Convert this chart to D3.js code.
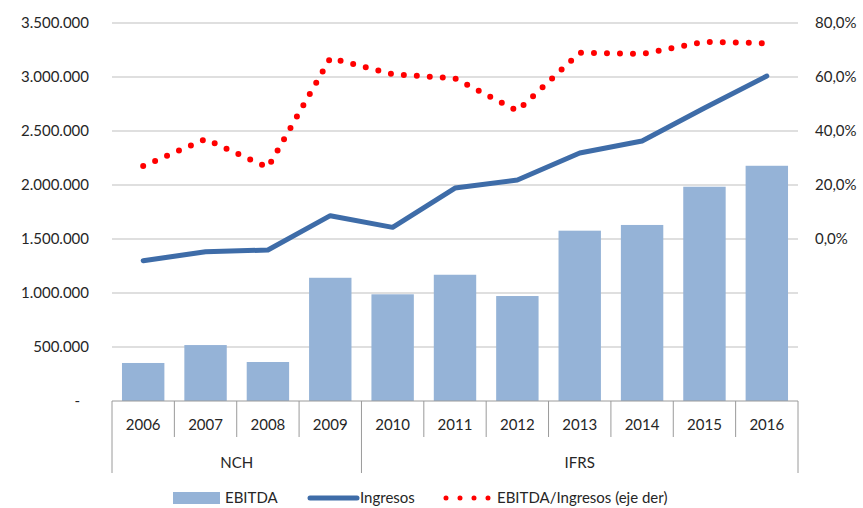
<!DOCTYPE html>
<html>
<head>
<meta charset="utf-8">
<script src="https://cdn.jsdelivr.net/npm/d3@7"></script>
<style>
  body { margin: 0; background: #fff; }
  svg text { font-family: Lato, "Open Sans", sans-serif; fill: #262626; }
</style>
</head>
<body>
<div class="chart"></div>
<script>
"use strict";
(function(){

var years = ['2006','2007','2008','2009','2010','2011','2012','2013','2014','2015','2016'];
var groups = [
  {name: 'NCH', from: '2006', to: '2009'},
  {name: 'IFRS', from: '2010', to: '2016'}
];
var ebitda = [352000, 518000, 361000, 1141000, 988000, 1169000, 972000, 1577000, 1630000, 1984000, 2178000];
var ingresos = [1299000, 1382000, 1398000, 1716000, 1608000, 1972000, 2046000, 2296000, 2407000, 2713000, 3009000];
var ratio = [27.0, 37.0, 26.5, 67.0, 61.0, 59.5, 47.5, 69.0, 68.5, 73.0, 72.5];
var leftTicks = [0, 500000, 1000000, 1500000, 2000000, 2500000, 3000000, 3500000];
var rightTicks = [0, 20, 40, 60, 80];

var width = 863;
var height = 508;
var margin = {left: 112, right: 65, top: 23, bottom: 107};

var svg = d3.select('.chart')
            .append('svg')
            .attr('width', width)
            .attr('height', height);

var x = d3.scaleBand().domain(years).range([margin.left, width - margin.right]).paddingInner(0.32).paddingOuter(0.16);
var xc = d3.scaleBand().domain(years).range([margin.left, width - margin.right]);
var y = d3.scaleLinear().domain([0, 3500000]).range([height - margin.bottom, margin.top]);
var yr = d3.scaleLinear().domain([-60, 80]).range([height - margin.bottom, margin.top]);

var fmt = function(v){
  if (v === 0) return '-';
  return d3.format(',')(v).replace(/,/g, '.');
};
var pfmt = function(v){ return d3.format('.1f')(v).replace('.', ',') + '%'; };

// grid
svg.append('g').selectAll('line')
   .data(leftTicks.slice(1))
   .enter().append('line')
   .attr('x1', margin.left).attr('x2', width - margin.right)
   .attr('y1', function(d){ return y(d); }).attr('y2', function(d){ return y(d); })
   .attr('stroke', '#d4d4d4').attr('stroke-width', 1.5);

// left axis
var la = svg.append('g')
   .attr('transform', 'translate(' + (margin.left - 23) + ',0)')
   .call(d3.axisLeft(y).tickValues(leftTicks).tickFormat(fmt).tickSize(0).tickPadding(0));
la.select('.domain').remove();
la.selectAll('text').attr('font-size', 15).attr('dx', function(d){ return d === 0 ? -9 : 0; });

// right axis
var ra = svg.append('g')
   .attr('transform', 'translate(' + (width - margin.right + 17) + ',0)')
   .call(d3.axisRight(yr).tickValues(rightTicks).tickFormat(pfmt).tickSize(0).tickPadding(0));
ra.select('.domain').remove();
ra.selectAll('text').attr('font-size', 15);

// bars
svg.append('g').selectAll('rect')
   .data(ebitda)
   .enter().append('rect')
   .attr('x', function(d, i){ return x(years[i]); })
   .attr('width', x.bandwidth())
   .attr('y', function(d){ return y(d); })
   .attr('height', function(d){ return y(0) - y(d); })
   .attr('fill', '#95b3d7');

// ingresos line
var line = d3.line()
  .x(function(d, i){ return xc(years[i]) + xc.bandwidth() / 2; })
  .y(function(d){ return y(d); });
svg.append('path')
   .datum(ingresos)
   .attr('d', line)
   .attr('fill', 'none')
   .attr('stroke', '#3e6ca8')
   .attr('stroke-width', 5)
   .attr('stroke-linecap', 'round')
   .attr('stroke-linejoin', 'round');

// ratio dotted line
var rline = d3.line()
  .x(function(d, i){ return xc(years[i]) + xc.bandwidth() / 2; })
  .y(function(d){ return yr(d); });
svg.append('path')
   .datum(ratio)
   .attr('d', rline)
   .attr('fill', 'none')
   .attr('stroke', '#ff0000')
   .attr('stroke-width', 6)
   .attr('stroke-linecap', 'round')
   .attr('stroke-dasharray', '0 13');

// category axis
var base = y(0);
svg.append('line')
   .attr('x1', margin.left).attr('x2', width - margin.right)
   .attr('y1', base).attr('y2', base)
   .attr('stroke', '#9a9a9a').attr('stroke-width', 1);

var inner = years.filter(function(d){ return groups.every(function(g){ return g.from !== d; }); });
svg.append('g').selectAll('line')
   .data(inner)
   .enter().append('line')
   .attr('x1', function(d){ return xc(d); }).attr('x2', function(d){ return xc(d); })
   .attr('y1', base).attr('y2', base + 36)
   .attr('stroke', '#9a9a9a');

var gEdges = groups.map(function(g){ return xc(g.from); }).concat([xc(groups[groups.length - 1].to) + xc.bandwidth()]);
svg.append('g').selectAll('line')
   .data(gEdges)
   .enter().append('line')
   .attr('x1', function(d){ return d; }).attr('x2', function(d){ return d; })
   .attr('y1', base).attr('y2', base + 72)
   .attr('stroke', '#9a9a9a');

svg.append('g').selectAll('text')
   .data(years)
   .enter().append('text')
   .attr('x', function(d){ return xc(d) + xc.bandwidth() / 2; })
   .attr('y', base + 29)
   .attr('text-anchor', 'middle')
   .attr('font-size', 15)
   .text(function(d){ return d; });

svg.append('g').selectAll('text')
   .data(groups)
   .enter().append('text')
   .attr('x', function(g){ return (xc(g.from) + xc(g.to) + xc.bandwidth()) / 2; })
   .attr('y', base + 67)
   .attr('text-anchor', 'middle')
   .attr('font-size', 15)
   .text(function(g){ return g.name; });

// legend
var ly = 498;
var lg = svg.append('g');
lg.append('rect').attr('x', 173).attr('y', ly - 6).attr('width', 47).attr('height', 12).attr('fill', '#95b3d7');
lg.append('text').attr('x', 225).attr('y', ly + 5).attr('font-size', 15).text('EBITDA');
lg.append('line').attr('x1', 310).attr('x2', 357).attr('y1', ly).attr('y2', ly)
  .attr('stroke', '#3e6ca8').attr('stroke-width', 5).attr('stroke-linecap', 'round');
lg.append('text').attr('x', 360).attr('y', ly + 5).attr('font-size', 15).text('Ingresos');
lg.append('line').attr('x1', 446).attr('x2', 492).attr('y1', ly).attr('y2', ly)
  .attr('stroke', '#ff0000').attr('stroke-width', 5).attr('stroke-linecap', 'round')
  .attr('stroke-dasharray', '0 14');
lg.append('text').attr('x', 497).attr('y', ly + 5).attr('font-size', 15).text('EBITDA/Ingresos (eje der)');

})();
</script>
</body>
</html>
